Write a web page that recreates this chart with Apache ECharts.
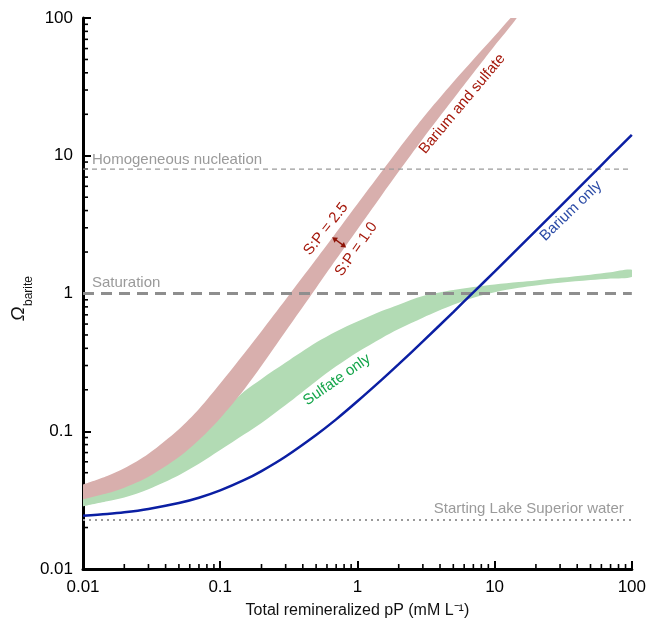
<!DOCTYPE html>
<html>
<head>
<meta charset="utf-8">
<script src="https://cdn.jsdelivr.net/npm/echarts@6/dist/echarts.min.js"></script>
<style>
html, body { margin: 0; padding: 0; background: #fff; }
#main { width: 649px; height: 627px; }
</style>
</head>
<body>
<div id="main"></div>
<script>
// total remineralized pP (mM/L)
var pP = [0.01, 0.015, 0.02, 0.03, 0.05, 0.07, 0.1, 0.15, 0.2, 0.3, 0.5, 0.7, 1, 1.5, 2, 3, 5, 7, 10, 15, 20, 30, 50, 70, 100];
// omega barite
var bariumOnly = [0.0244, 0.0251, 0.0258, 0.0273, 0.0301, 0.0329, 0.0372, 0.0443, 0.0514, 0.0656, 0.094, 0.122, 0.165, 0.236, 0.307, 0.449, 0.733, 1.02, 1.44, 2.15, 2.86, 4.28, 7.12, 9.96, 14.2];
var sulfateLow = [0.0285, 0.031, 0.033, 0.038, 0.048, 0.058, 0.073, 0.095, 0.115, 0.155, 0.231, 0.296, 0.375, 0.474, 0.552, 0.668, 0.828, 0.931, 1.02, 1.10, 1.143, 1.195, 1.251, 1.285, 1.32];
var sulfateHigh = [0.034, 0.038, 0.042, 0.05, 0.07, 0.095, 0.135, 0.195, 0.24, 0.315, 0.44, 0.53, 0.625, 0.745, 0.83, 0.96, 1.06, 1.114, 1.163, 1.211, 1.243, 1.30, 1.37, 1.425, 1.485];
var bothSP10 = [0.032, 0.0354, 0.0389, 0.0467, 0.065, 0.0865, 0.1245, 0.202, 0.2985, 0.531, 1.096, 1.77, 2.92, 5.15, 7.67, 13.3, 25.8, 39.8, 62.8, 105, null, null, null, null, null];
var bothSP25 = [0.041, 0.0473, 0.0538, 0.0687, 0.1035, 0.145, 0.222, 0.369, 0.533, 0.904, 1.77, 2.77, 4.46, 7.64, 11.2, 18.8, 34.3, 50, 74, 115, null, null, null, null, null];

var homogeneous = 8;
var saturation = 1;
var startingWater = 0.0227;

var xTicks = [0.01, 0.1, 1, 10, 100];
var yTicks = [0.01, 0.1, 1, 10, 100];

var FONT = '"Liberation Sans", Arial, sans-serif';

function pairs(ys) {
  var out = [];
  for (var i = 0; i < pP.length; i++) if (ys[i] != null) out.push([pP[i], ys[i]]);
  return out;
}

function band(name, lower, upper, color) {
  return {
    type: 'custom',
    name: name,
    clip: true,
    silent: true,
    data: [[1, 1]],
    encode: { x: 0, y: 1 },
    renderItem: function (params, api) {
      var up = [], lo = [];
      for (var i = 0; i < pP.length; i++) {
        if (upper[i] != null) up.push(api.coord([pP[i], upper[i]]));
        if (lower[i] != null) lo.push(api.coord([pP[i], lower[i]]));
      }
      lo.reverse();
      return {
        type: 'group',
        children: [
          { type: 'polyline', shape: { points: up.concat(lo), smooth: 0.3 }, style: { fill: color, stroke: null } }
        ]
      };
    }
  };
}

function hline(v, style) {
  return {
    type: 'line',
    data: [[0.01, v], [100, v]],
    symbol: 'none',
    silent: true,
    lineStyle: style
  };
}

var myChart = echarts.init(document.getElementById('main'));
myChart.setOption({
  animation: false,
  textStyle: { fontFamily: FONT },
  grid: { left: 83, right: 16, top: 18, bottom: 58 },
  xAxis: {
    type: 'log',
    logBase: 10,
    min: 0.01,
    max: 100,
    name: 'Total remineralized pP (mM L\u207B\u00B9)',
    nameLocation: 'middle',
    nameGap: 34,
    nameTextStyle: { fontSize: 16, color: '#111', fontFamily: FONT },
    axisLine: { lineStyle: { color: '#000', width: 3 } },
    axisTick: { inside: true, length: 8, lineStyle: { color: '#000', width: 2 } },
    axisLabel: {
      color: '#000', fontSize: 17, margin: 10, fontFamily: FONT,
      formatter: function (v) { return String(+(+v).toPrecision(2)); }
    },
    splitLine: { show: false }
  },
  yAxis: {
    type: 'log',
    logBase: 10,
    min: 0.01,
    max: 100,
    axisLine: { lineStyle: { color: '#000', width: 3 } },
    axisTick: { inside: true, length: 8, lineStyle: { color: '#000', width: 2 } },
    axisLabel: {
      color: '#000', fontSize: 17, margin: 10, fontFamily: FONT,
      formatter: function (v) { return String(+(+v).toPrecision(2)); }
    },
    splitLine: { show: false }
  },
  series: [
    hline(homogeneous, { color: '#9a9a9a', width: 1.2, type: [5, 4] }),
    hline(saturation, { color: '#8e8e8e', width: 3, type: [11, 7] }),
    hline(startingWater, { color: '#9a9a9a', width: 2, type: [2, 4] }),
    band('Sulfate only', sulfateLow, sulfateHigh, '#b2dbb4'),
    band('Barium and sulfate', bothSP10, bothSP25, '#d8afad'),
    {
      type: 'line',
      name: 'Barium only',
      data: pairs(bariumOnly),
      symbol: 'none',
      smooth: 0.3,
      silent: true,
      lineStyle: { color: '#0b1fa3', width: 2.5 }
    }
  ]
});

// annotations, anchored in data coordinates
var labels = [
  { text: 'Barium and sulfate', at: [5.81, 23.8], rot: 50, color: '#a5190c' },
  { text: 'Barium only', at: [36, 3.97], rot: 44, color: '#2b4ba6' },
  { text: 'Sulfate only', at: [0.71, 0.236], rot: 35, color: '#14a54a' },
  { text: 'S:P = 2.5', at: [0.59, 2.94], rot: 52, color: '#a5190c' },
  { text: 'S:P = 1.0', at: [0.98, 2.1], rot: 55, color: '#a5190c' }
];
var refLabels = [
  { text: 'Homogeneous nucleation', at: [0.01, homogeneous], dx: 9, dy: -9, align: 'left' },
  { text: 'Saturation', at: [0.01, saturation], dx: 9, dy: -11, align: 'left' },
  { text: 'Starting Lake Superior water', at: [100, startingWater], dx: -8, dy: -11, align: 'right' }
];
var spArrow = [[0.655, 2.56], [0.828, 2.16]];

function px(p) { return myChart.convertToPixel({ gridIndex: 0 }, p); }

var g = [];
labels.forEach(function (l) {
  var p = px(l.at);
  g.push({
    type: 'text', x: p[0], y: p[1], rotation: l.rot * Math.PI / 180, silent: true, z: 10,
    style: { text: l.text, fill: l.color, font: '15px ' + FONT, textAlign: 'center', textVerticalAlign: 'middle' }
  });
});
refLabels.forEach(function (l) {
  var p = px(l.at);
  g.push({
    type: 'text', x: p[0] + l.dx, y: p[1] + l.dy, silent: true,
    style: { text: l.text, fill: '#9a9a9a', font: '15px ' + FONT, textAlign: l.align, textVerticalAlign: 'middle' }
  });
});

// double arrow between the two S:P edges
var a = px(spArrow[0]), b = px(spArrow[1]);
var dx = b[0] - a[0], dy = b[1] - a[1], len = Math.sqrt(dx * dx + dy * dy);
var ux = dx / len, uy = dy / len, hl = 5, hw = 3;
g.push({ type: 'line', silent: true, z: 10, shape: { x1: a[0] + ux * 3, y1: a[1] + uy * 3, x2: b[0] - ux * 3, y2: b[1] - uy * 3 }, style: { stroke: '#8e1408', lineWidth: 1.4 } });
g.push({ type: 'polygon', silent: true, z: 10, shape: { points: [a, [a[0] + ux * hl - uy * hw, a[1] + uy * hl + ux * hw], [a[0] + ux * hl + uy * hw, a[1] + uy * hl - ux * hw]] }, style: { fill: '#8e1408' } });
g.push({ type: 'polygon', silent: true, z: 10, shape: { points: [b, [b[0] - ux * hl - uy * hw, b[1] - uy * hl + ux * hw], [b[0] - ux * hl + uy * hw, b[1] - uy * hl - ux * hw]] }, style: { fill: '#8e1408' } });

// minor ticks (2..9 per decade), inward
var x0 = px([0.01, 0.01]);
for (var d = 0; d < xTicks.length - 1; d++) {
  for (var k = 2; k <= 9; k++) {
    var v = xTicks[d] * k;
    var pxX = myChart.convertToPixel({ xAxisIndex: 0 }, v);
    g.push({ type: 'line', silent: true, shape: { x1: pxX, y1: x0[1], x2: pxX, y2: x0[1] - 5 }, style: { stroke: '#000', lineWidth: 1.6 } });
  }
}
for (var d2 = 0; d2 < yTicks.length - 1; d2++) {
  for (var k2 = 2; k2 <= 9; k2++) {
    var w = yTicks[d2] * k2;
    var pxY = myChart.convertToPixel({ yAxisIndex: 0 }, w);
    g.push({ type: 'line', silent: true, shape: { x1: x0[0], y1: pxY, x2: x0[0] + 5, y2: pxY }, style: { stroke: '#000', lineWidth: 1.6 } });
  }
}

// y axis title: Omega_barite, rotated
g.push({
  type: 'group', x: 19, y: 321, rotation: Math.PI / 2, silent: true,
  children: [
    { type: 'text', x: 0, y: 0, style: { text: '\u03A9', fill: '#111', font: 'italic 19px ' + FONT, textAlign: 'left', textVerticalAlign: 'middle' } },
    { type: 'text', x: 15, y: 10, style: { text: 'barite', fill: '#111', font: '12px ' + FONT, textAlign: 'left', textVerticalAlign: 'middle' } }
  ]
});

myChart.setOption({ graphic: g });
</script>
</body>
</html>
